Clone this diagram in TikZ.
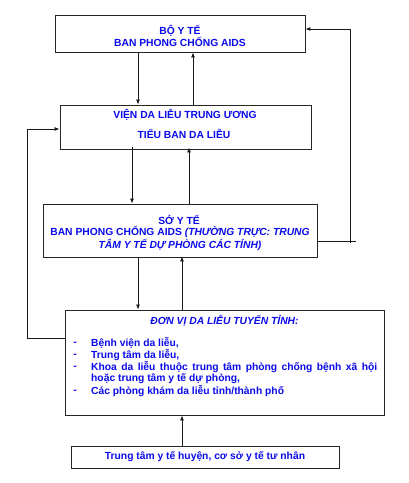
\documentclass[tikz,border=0pt]{standalone}
\usepackage{fontspec}
\setmainfont{Liberation Sans}
\usetikzlibrary{arrows.meta}
\definecolor{txtblue}{RGB}{10,10,235}
\tikzset{
  box/.style={draw=black!85, line width=0.9pt, fill=white, minimum width=#1, inner sep=0pt},
  lbl/.style={text=txtblue, font=\bfseries\fontsize{10.3}{12}\selectfont, inner sep=0pt},
  arr/.style={line width=0.8pt, draw=black!90, -{Latex[length=5pt,width=4pt]}},
  ln/.style={line width=0.8pt, draw=black!90},
}
\begin{document}
\begin{tikzpicture}[x=1pt,y=-1pt]
\useasboundingbox (0,0) rectangle (408,483);
% boxes
\node[box=250pt, minimum height=37pt] (b1) at (180,33.5) {};
\node[box=251pt, minimum height=44pt] (b2) at (185.5,127) {};
\node[box=274pt, minimum height=53pt] (b3) at (180,230.5) {};
\node[box=319pt, minimum height=105pt] (b4) at (224.5,362.5) {};
\node[box=268pt, minimum height=22pt] (b5) at (205,457) {};
% texts box1
\node[lbl] (t1a) at (180,30.5) {BỘ Y TẾ};
\node[lbl] (t1b) at (180,42) {BAN PHONG CHỐNG AIDS};
% box2
\node[lbl] (t2a) at (185,114.5) {VIỆN DA LIỄU TRUNG ƯƠNG};
\node[lbl] (t2b) at (184,133.5) {TIỂU BAN DA LIỄU};
% box3
\node[lbl] (t3a) at (179,220) {SỞ Y TẾ};
\node[lbl] (t3b) at (180,232) {BAN PHONG CHỐNG AIDS \textit{(THƯỜNG TRỰC: TRUNG}};
\node[lbl] (t3c) at (180,244.5) {\textit{TÂM Y TẾ DỰ PHÒNG CÁC TỈNH)}};
% box4
\node[lbl] (t4t) at (224.5,320.5) {\textit{ĐƠN VỊ DA LIỄU TUYẾN TỈNH:}};
\node[lbl] (d1) at (75,344) {-};
\node[lbl] (d2) at (75,356) {-};
\node[lbl] (d3) at (75,368) {-};
\node[lbl] (d4) at (75,392) {-};
\node[lbl, anchor=west] (i1) at (91,343) {Bệnh viện da liễu,};
\node[lbl, anchor=west] (i2) at (91,355) {Trung tâm da liễu,};
\node[lbl, anchor=west] (i3) at (91,367) {\makebox[286pt][s]{Khoa da liễu thuộc trung tâm phòng chống bệnh xã hội}};
\node[lbl, anchor=west] (i3b) at (91,378.5) {hoặc trung tâm y tế dự phòng,};
\node[lbl, anchor=west] (i4) at (91,391) {Các phòng khám da liễu tỉnh/thành phố};
% box5
\node[lbl] (t5) at (205,457) {Trung tâm y tế huyện, cơ sở y tế tư nhân};
% x coordinates for connectors
\coordinate (xa) at (138,0);
\coordinate (xb) at (193,0);
\coordinate (xc) at (132,0);
\coordinate (xd) at (189,0);
\coordinate (xe) at (182,0);
\coordinate (rt) at (350,29);
\coordinate (rb) at (350,243);
\coordinate (re) at (356,241);
\coordinate (lt) at (27,129);
\coordinate (lb) at (27,338);
% vertical arrows
\draw[arr] (xa |- b1.south) -- (xa |- b2.north);
\draw[arr] (xb |- b2.north) -- (xb |- b1.south);
\draw[arr] ([yshift=2pt]xc |- b2.south) -- (xc |- b3.north);
\draw[arr] (xd |- b3.north) -- ([yshift=2pt]xd |- b2.south);
\draw[arr] (xa |- b3.south) -- (xa |- b4.north);
\draw[arr] (xe |- b4.north) -- ([yshift=1pt]xe |- b3.south);
\draw[arr] (xe |- b5.north) -- (xe |- b4.south);
% feedback right
\draw[ln] (b3.east |- re) -- (re);
\draw[arr] (rb) -- (rt) -- (b1.east |- rt);
% feedback left
\draw[arr] (b4.west |- lb) -- (lb) -- (lt) -- (b2.west |- lt);
\end{tikzpicture}
\end{document}
